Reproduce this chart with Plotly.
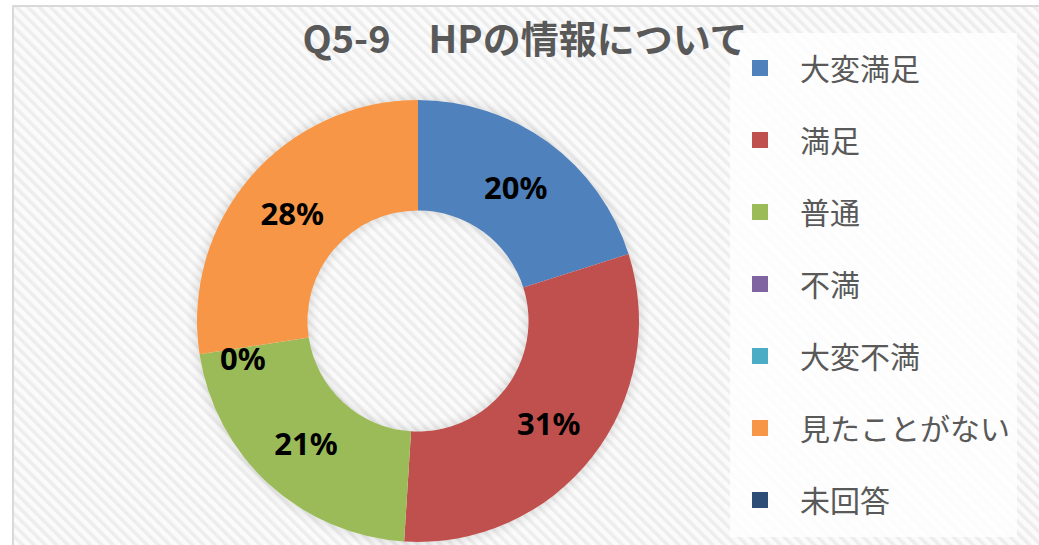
import base64
import math
import plotly.graph_objects as go

# ---- data ----
categories = ["大変満足", "満足", "普通", "不満", "大変不満", "見たことがない", "未回答"]
values = [20.1, 30.9, 21.6, 0, 0, 27.4, 0]
pct_labels = ["20%", "31%", "21%", "0%", "0%", "28%", "0%"]
colors = ["#4f81bd", "#c0504d", "#9bbb59", "#8064a2", "#4bacc6", "#f79646", "#2c4d75"]
title_text = "Q5-9\u3000HPの情報について"

W, H = 1039, 545

# pie geometry (pixels)
dom_x = [197 / W, 639 / W]
dom_y = [2 / H, 446 / H]
cx = (dom_x[0] + dom_x[1]) / 2 * W
cy = H - (dom_y[0] + dom_y[1]) / 2 * H
R = min((dom_x[1] - dom_x[0]) * W, (dom_y[1] - dom_y[0]) * H) / 2
HOLE = 0.5

# striped background as an inline SVG pattern
svg = (
    f'<svg xmlns="http://www.w3.org/2000/svg" width="{W}" height="{H}" viewBox="0 0 {W} {H}" preserveAspectRatio="none">'
    '<defs><pattern id="p" width="8" height="8" patternUnits="userSpaceOnUse" patternTransform="rotate(-45)">'
    '<rect width="8" height="8" fill="#fbfbfb"/><rect width="3.5" height="8" fill="#ededed"/>'
    '</pattern></defs>'
    f'<rect width="{W}" height="{H}" fill="url(#p)"/></svg>'
)
svg_uri = "data:image/svg+xml;base64," + base64.b64encode(svg.encode()).decode()

fig = go.Figure()
fig.add_trace(go.Pie(
    labels=categories,
    values=values,
    text=pct_labels,
    texttemplate="%{text}",
    textposition="inside",
    insidetextorientation="horizontal",
    textfont=dict(family="Noto Sans, Open Sans, sans-serif", size=31, color="#000000", weight="bold"),
    marker=dict(colors=colors, line=dict(width=0)),
    hole=HOLE,
    sort=False,
    direction="clockwise",
    rotation=0,
    showlegend=False,
    domain=dict(x=dom_x, y=dom_y),
))

# legend entries
for name, c in zip(categories, colors):
    fig.add_trace(go.Scatter(
        x=[None], y=[None], mode="markers", name=name, legendgroup=name,
        marker=dict(symbol="square", size=16, color=c, line=dict(width=0)),
        hoverinfo="skip",
    ))


def px_circle(r, **kw):
    return dict(type="circle", xref="paper", yref="paper",
                x0=(cx - r) / W, x1=(cx + r) / W,
                y0=1 - (cy + r) / H, y1=1 - (cy - r) / H, **kw)


shapes = [
    dict(type="rect", xref="paper", yref="paper",
         x0=13 / W, y0=-0.05, x1=1.05, y1=1 - 6 / H,
         line=dict(color="#d9d9d9", width=2), fillcolor="rgba(0,0,0,0)", layer="below"),
    dict(type="rect", xref="paper", yref="paper",
         x0=730 / W, y0=1 - 537 / H, x1=1017 / W, y1=1 - 33 / H,
         line=dict(width=0), fillcolor="rgba(255,255,255,0.8)", layer="below"),
]
# soft shadow around the ring
for k, a in enumerate([0.07, 0.05, 0.035, 0.02, 0.01]):
    shapes.append(px_circle(R + 1 + 2 * k, line=dict(color=f"rgba(0,0,0,{a})", width=2),
                            fillcolor="rgba(0,0,0,0)", layer="below"))
for k, a in enumerate([0.07, 0.05, 0.035, 0.02, 0.01]):
    shapes.append(px_circle(R * HOLE - 1 - 2 * k, line=dict(color=f"rgba(0,0,0,{a})", width=2),
                            fillcolor="rgba(0,0,0,0)", layer="above"))

# label for the zero-valued slices (placed at their angle on the ring)
total = sum(values)
annotations = []
cum = 0.0
shown_zero = set()
for lab, v, t in zip(categories, values, pct_labels):
    if v == 0:
        ang = cum / total * 2 * math.pi
        key = round(ang, 4)
        if key not in shown_zero and 0 < ang < 2 * math.pi * 0.99:
            shown_zero.add(key)
            rr = R * 0.8
            ax = cx + rr * math.sin(ang)
            ay = cy - rr * math.cos(ang)
            annotations.append(dict(
                x=ax / W, y=1 - ay / H, xref="paper", yref="paper", text=t, showarrow=False,
                xanchor="center", yanchor="middle", yshift=-10,
                font=dict(family="Noto Sans, Open Sans, sans-serif", size=31,
                          color="#000000", weight="bold")))
    cum += v

fig.update_layout(
    width=W, height=H,
    margin=dict(l=0, r=0, t=0, b=0),
    paper_bgcolor="#ffffff",
    plot_bgcolor="rgba(0,0,0,0)",
    xaxis=dict(visible=False),
    yaxis=dict(visible=False),
    title=dict(
        text=title_text, x=525 / W, xanchor="center", y=1 - 40 / H, yanchor="middle",
        font=dict(family="Noto Sans CJK JP", size=38, color="#595959", weight="bold"),
    ),
    legend=dict(
        x=720 / W, xanchor="left", y=1 - 42 / H, yanchor="top",
        bgcolor="rgba(0,0,0,0)", borderwidth=0,
        font=dict(family="Noto Sans CJK JP", size=30, color="#595959"),
        itemwidth=70, traceorder="grouped", tracegroupgap=30,
        itemclick=False, itemdoubleclick=False,
    ),
    images=[dict(
        source=svg_uri, xref="paper", yref="paper",
        x=13 / W, y=1 - 6 / H, sizex=1, sizey=1, xanchor="left", yanchor="top",
        sizing="stretch", layer="below",
    )],
    shapes=shapes,
    annotations=annotations,
    showlegend=True,
)

fig.write_html("out.html")
